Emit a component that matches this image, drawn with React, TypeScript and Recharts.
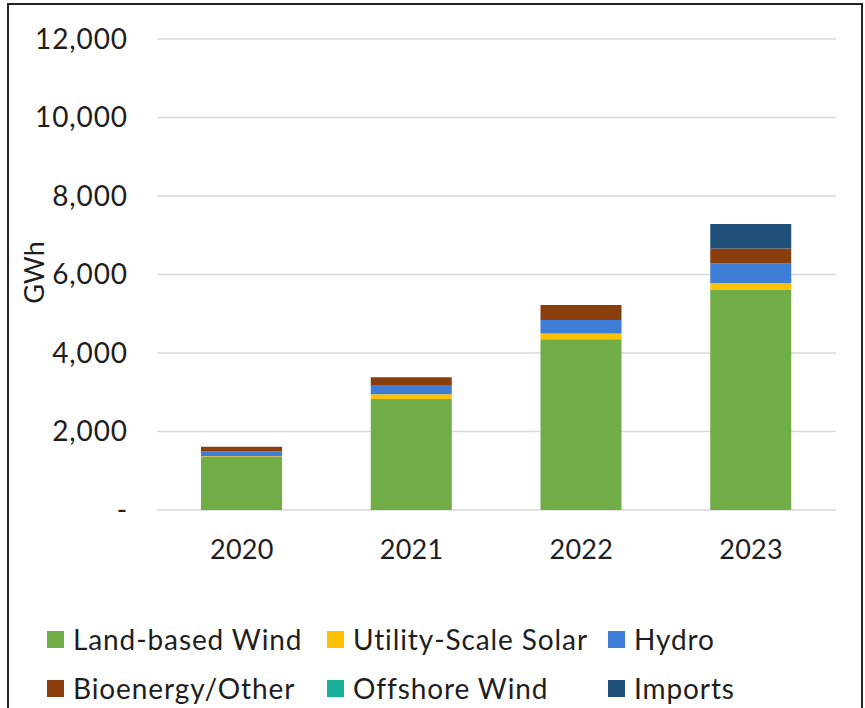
import React from 'react';
import { BarChart, Bar, XAxis, YAxis, CartesianGrid } from 'recharts';

const years = ['2020', '2021', '2022', '2023'];
const landWind = [1350, 2830, 4350, 5620];
const utilitySolar = [20, 120, 150, 155];
const hydro = [130, 235, 340, 510];
const bioenergy = [110, 195, 380, 380];
const offshoreWind = [0, 0, 0, 0];
const imports = [0, 0, 0, 620];
const yTicks = [0, 2000, 4000, 6000, 8000, 10000, 12000];

const series = [
  { key: 'landWind', name: 'Land-based Wind', color: '#70AD47', values: landWind },
  { key: 'utilitySolar', name: 'Utility-Scale Solar', color: '#FFC000', values: utilitySolar },
  { key: 'hydro', name: 'Hydro', color: '#3D7DD5', values: hydro },
  { key: 'bioenergy', name: 'Bioenergy/Other', color: '#8A3E0E', values: bioenergy },
  { key: 'offshoreWind', name: 'Offshore Wind', color: '#1BB09B', values: offshoreWind },
  { key: 'imports', name: 'Imports', color: '#1F4E79', values: imports },
];

const data = years.map((year, i) => {
  const row: any = { year };
  series.forEach((s) => { row[s.key] = s.values[i]; });
  return row;
});

const FONT = 'Lato, "Open Sans", sans-serif';
const TEXT = '#1e1e1e';

const legendCols = [47, 327, 608];
const legendRows = [639, 688];

export default function App() {
  return (
    <div style={{ position: 'absolute', left: 0, top: 0, width: 865, height: 708, overflow: 'hidden', background: '#fff', fontFamily: FONT }}>
      <div style={{ position: 'absolute', left: 7, top: 3, width: 856, height: 730, border: '2px solid #222', boxSizing: 'border-box' }} />
      <div style={{ position: 'absolute', left: 0, top: 0 }}>
        <BarChart width={865} height={600} data={data} margin={{ top: 39, right: 29, left: 20, bottom: 30 }} barSize={81}>
          <CartesianGrid vertical={false} stroke="#d9d9d9" strokeWidth={1.5} />
          <XAxis
            dataKey="year"
            height={60}
            axisLine={false}
            tickLine={false}
            tickSize={0}
            tickMargin={30}
            tick={{ fontSize: 27, fill: TEXT, fontFamily: FONT, letterSpacing: 0.3 }}
          />
          <YAxis
            width={137}
            domain={[0, 12000]}
            ticks={yTicks}
            axisLine={false}
            tickLine={false}
            tickSize={0}
            tickMargin={29}
            tick={{ fontSize: 28, fill: TEXT, fontFamily: FONT, letterSpacing: 0.9 }}
            tickFormatter={(v: number) => (v === 0 ? '-' : v.toLocaleString('en-US'))}
            label={{
              content: ({ viewBox }: any) => {
                const x = viewBox.x + 13;
                const y = viewBox.y + viewBox.height / 2 - 2;
                return (
                  <text x={x} y={y} transform={`rotate(-90, ${x}, ${y})`} textAnchor="middle" dominantBaseline="central" fontSize={27} fill={TEXT} fontFamily={FONT}>
                    GWh
                  </text>
                );
              },
            }}
          />
          {series.map((s) => (
            <Bar key={s.key} dataKey={s.key} name={s.name} stackId="a" fill={s.color} isAnimationActive={false} />
          ))}
        </BarChart>
      </div>
      {series.map((s, i) => (
        <div
          key={s.key}
          style={{
            position: 'absolute',
            left: legendCols[i % 3],
            top: legendRows[Math.floor(i / 3)] - 18,
            height: 36,
            display: 'flex',
            alignItems: 'center',
            whiteSpace: 'nowrap',
            fontSize: 28,
            letterSpacing: 0.9,
            color: TEXT,
          }}
        >
          <span style={{ display: 'inline-block', width: 17, height: 17, background: s.color, marginRight: 9 }} />
          {s.name}
        </div>
      ))}
    </div>
  );
}
